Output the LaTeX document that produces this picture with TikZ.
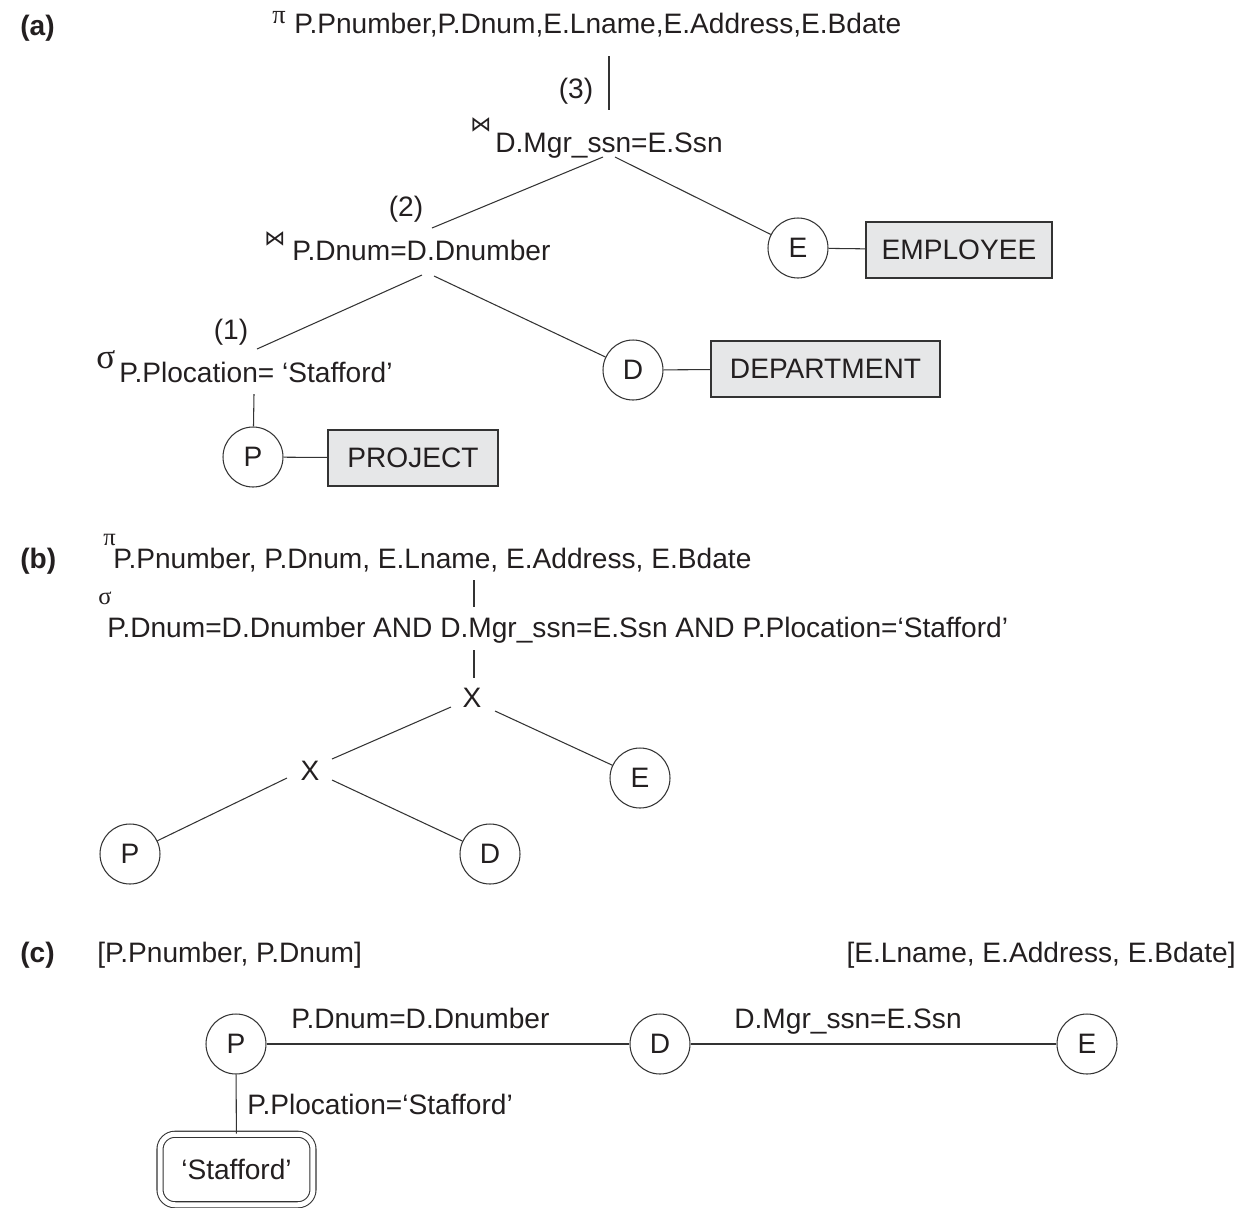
\documentclass[tikz,border=0pt]{standalone}
\usepackage{fontspec}
\setmainfont{Liberation Sans}
\newfontfamily\symserif{Liberation Serif}
\newfontfamily\symsans{DejaVu Sans}
\newcommand\mainsz{\fontsize{16}{19}\selectfont}
\definecolor{linec}{HTML}{333333}
\definecolor{txtc}{HTML}{231F20}
\definecolor{boxfill}{HTML}{E6E7E8}
\begin{document}
\begin{tikzpicture}[x=0.02cm,y=-0.02cm,
  every node/.style={text=txtc},
  txt/.style={inner sep=0pt, anchor=base west, font=\mainsz},
  ctxt/.style={inner sep=0pt, anchor=center, font=\mainsz},
  lbl/.style={inner sep=0pt, anchor=base west, font=\mainsz\bfseries},
  supsym/.style={inner sep=0pt, anchor=base west, text height=6pt, text depth=0pt},
  rel/.style={circle, draw=linec, line width=0.6pt, minimum size=1.2cm, inner sep=0pt, font=\mainsz},
  tbl/.style={draw=linec, fill=boxfill, line width=1pt, minimum height=1.12cm, inner sep=0pt, font=\mainsz},
  edge/.style={draw=linec, line width=0.6pt}]
\useasboundingbox (0,0) rectangle (1249,1208);

% ---------------- (a) ----------------
\node[lbl] (la) at (20,35) {(a)};
\node[supsym, font=\symserif\fontsize{15}{15}\selectfont] (piA) at (272,23) {π};
\node[txt] (projA) at (294,33) {P.Pnumber,P.Dnum,E.Lname,E.Address,E.Bdate};
\coordinate (l3t) at (609,56);
\coordinate (l3b) at (609,110);
\draw[edge] (l3t) -- (l3b);
\node[ctxt] (n3) at (576,91) {(3)};
\node[supsym, font=\symsans\fontsize{12}{12}\selectfont] (bt1) at (470,131) {⋈};
\node[txt] (j1) at (495,152) {D.Mgr\_ssn=E.Ssn};
\node[ctxt] (n2) at (406,209) {(2)};
\node[supsym, font=\symsans\fontsize{12}{12}\selectfont] (bt2) at (264,245) {⋈};
\node[txt] (j2) at (292,260) {P.Dnum=D.Dnumber};
\node[ctxt] (n1) at (231,332) {(1)};
\node[supsym, font=\symserif\fontsize{20}{20}\selectfont] (sgA) at (96,368) {σ};
\node[txt] (selA) at (119,382) {P.Plocation= ‘Stafford’};

\node[rel] (Ea) at (798,248) {E};
\node[rel] (Da) at (633,370) {D};
\node[rel] (Pa) at (253,457) {P};
\node[tbl, minimum width=3.72cm] (EMP) at (959,250) {EMPLOYEE};
\node[tbl, minimum width=4.58cm] (DEP) at (825.5,369) {DEPARTMENT};
\node[tbl, minimum width=3.40cm] (PRJ) at (413,458) {PROJECT};

\coordinate (j1l) at (603,157);
\coordinate (j2t) at (432,228);
\coordinate (j1r) at (615,157);
\coordinate (j2l) at (422,275);
\coordinate (s1t) at (257,349);
\coordinate (j2r) at (434,276);
\coordinate (s1b) at (254,394);
\draw[edge] (j1l) -- (j2t);
\draw[edge] (j1r) -- (Ea);
\draw[edge] (j2l) -- (s1t);
\draw[edge] (j2r) -- (Da);
\draw[edge] (s1b) -- (Pa);
\draw[edge] (Ea) -- (EMP);
\draw[edge] (Da) -- (DEP);
\draw[edge] (Pa) -- (PRJ);

% ---------------- (b) ----------------
\node[lbl] (lb) at (20,568) {(b)};
\node[supsym, font=\symserif\fontsize{14}{14}\selectfont] (piB) at (103,545) {π};
\node[txt] (projB) at (113,568) {P.Pnumber, P.Dnum, E.Lname, E.Address, E.Bdate};
\node[supsym, font=\symserif\fontsize{14}{14}\selectfont] (sgB) at (98,604) {σ};
\node[txt] (selB) at (107,637) {P.Dnum=D.Dnumber AND D.Mgr\_ssn=E.Ssn AND P.Plocation=‘Stafford’};
\coordinate (vb1t) at (474,580);
\coordinate (vb1b) at (474,607);
\coordinate (vb2t) at (474,650);
\coordinate (vb2b) at (474,678);
\draw[edge] (vb1t) -- (vb1b);
\draw[edge] (vb2t) -- (vb2b);
\node[ctxt] (X1) at (472,698) {X};
\node[ctxt] (X2) at (310,771) {X};
\node[rel] (Eb) at (640,778) {E};
\node[rel] (Pb) at (130,854) {P};
\node[rel] (Db) at (490,854) {D};
\coordinate (x1l) at (451,707);
\coordinate (x2t) at (332,759);
\coordinate (x1r) at (495,711);
\coordinate (x2l) at (287,778);
\coordinate (x2r) at (332,780);
\draw[edge] (x1l) -- (x2t);
\draw[edge] (x1r) -- (Eb);
\draw[edge] (x2l) -- (Pb);
\draw[edge] (x2r) -- (Db);

% ---------------- (c) ----------------
\node[lbl] (lc) at (20,962) {(c)};
\node[txt] (attP) at (97,962) {[P.Pnumber, P.Dnum]};
\node[txt, anchor=base east] (attE) at (1236,962) {[E.Lname, E.Address, E.Bdate]};
\node[rel] (Pc) at (236,1044) {P};
\node[rel] (Dc) at (660,1044) {D};
\node[rel] (Ec) at (1087,1044) {E};
\node[txt] (e1) at (291,1028) {P.Dnum=D.Dnumber};
\node[txt] (e2) at (734,1028) {D.Mgr\_ssn=E.Ssn};
\node[txt] (e3) at (247,1114) {P.Plocation=‘Stafford’};
\node[draw=linec, line width=0.6pt, double, double distance=0.1cm, rounded corners=0.3cm,
      minimum width=3.06cm, minimum height=1.41cm, inner sep=0pt, font=\mainsz] (St) at (236.5,1169.5) {‘Stafford’};
\draw[edge] (Pc) -- (Dc);
\draw[edge] (Dc) -- (Ec);
\draw[edge] (Pc) -- (St);
\end{tikzpicture}
\end{document}
